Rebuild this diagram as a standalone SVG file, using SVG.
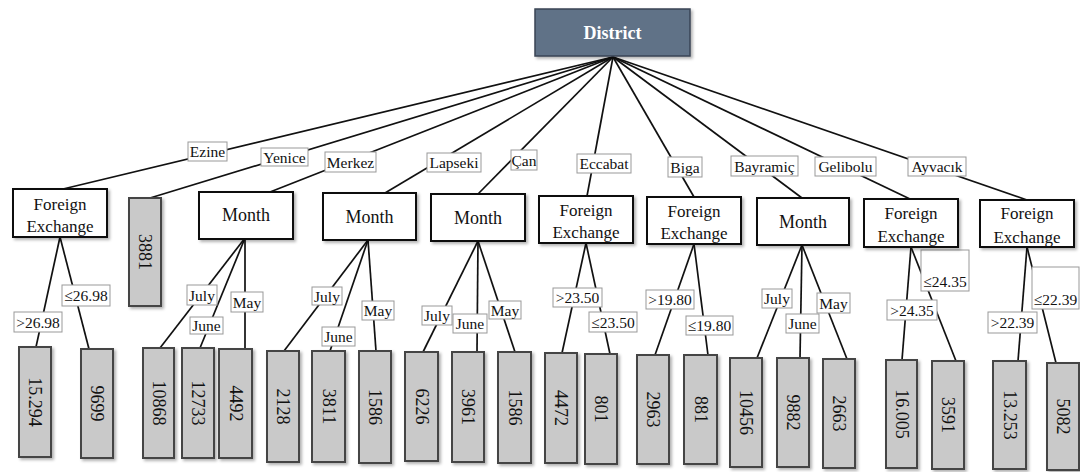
<svg xmlns="http://www.w3.org/2000/svg" width="1080" height="472" viewBox="0 0 1080 472">
  <defs>
    <filter id="shadow" x="-20%" y="-20%" width="150%" height="150%">
      <feDropShadow dx="2" dy="2" stdDeviation="1.5" flood-color="#000" flood-opacity="0.3"/>
    </filter>
    <style>
      .edge { stroke: #111; stroke-width: 1.7; fill: none; }
      .node { fill: #fff; stroke: #111; stroke-width: 2; filter: url(#shadow); }
      .root { fill: #617287; stroke: #3a4656; stroke-width: 1.5; filter: url(#shadow); }
      .leaf { fill: #c9c9c9; stroke: #444; stroke-width: 2; filter: url(#shadow); }
      .lbl { fill: #fff; stroke: #999; stroke-width: 1; }
      text { font-family: "Liberation Serif", "Times New Roman", serif; fill: #111; text-anchor: middle; dominant-baseline: central; }
      .nt { font-size: 17px; }
      .mt { font-size: 18px; }
      .rt { font-size: 18px; font-weight: bold; fill: #fff; }
      .lt { font-size: 18px; }
      .et { font-size: 15.5px; }
    </style>
  </defs>
  <rect width="1080" height="472" fill="#fff"/>

  <!-- connectors -->
  <g id="connectors">
    <!-- root to districts -->
    <line class="edge" x1="613" y1="57" x2="63" y2="189"/>
    <line class="edge" x1="613" y1="57" x2="150" y2="198"/>
    <line class="edge" x1="613" y1="57" x2="270" y2="192"/>
    <line class="edge" x1="613" y1="57" x2="385" y2="193"/>
    <line class="edge" x1="613" y1="57" x2="478" y2="194"/>
    <line class="edge" x1="613" y1="57" x2="587" y2="196"/>
    <line class="edge" x1="613" y1="57" x2="694" y2="197"/>
    <line class="edge" x1="613" y1="57" x2="802" y2="198"/>
    <line class="edge" x1="613" y1="57" x2="910" y2="199"/>
    <line class="edge" x1="613" y1="57" x2="1027" y2="200"/>
    <!-- Ezine -->
    <line class="edge" x1="60" y1="237" x2="36" y2="347"/>
    <line class="edge" x1="60" y1="237" x2="89" y2="349"/>
    <!-- Merkez -->
    <line class="edge" x1="245" y1="238" x2="160" y2="348"/>
    <line class="edge" x1="245" y1="238" x2="200" y2="348"/>
    <line class="edge" x1="245" y1="238" x2="245" y2="349"/>
    <!-- Lapseki -->
    <line class="edge" x1="368" y1="240" x2="284" y2="351"/>
    <line class="edge" x1="368" y1="240" x2="330" y2="351"/>
    <line class="edge" x1="368" y1="240" x2="376" y2="351"/>
    <!-- Çan -->
    <line class="edge" x1="478" y1="241" x2="423" y2="352"/>
    <line class="edge" x1="478" y1="241" x2="477" y2="352"/>
    <line class="edge" x1="478" y1="241" x2="515" y2="352"/>
    <!-- Eccabat -->
    <line class="edge" x1="586" y1="243" x2="562" y2="353"/>
    <line class="edge" x1="586" y1="243" x2="610" y2="354"/>
    <!-- Biga -->
    <line class="edge" x1="694" y1="244" x2="655" y2="355"/>
    <line class="edge" x1="694" y1="244" x2="708" y2="355"/>
    <!-- Bayramiç -->
    <line class="edge" x1="802" y1="245" x2="757" y2="358"/>
    <line class="edge" x1="802" y1="245" x2="800" y2="358"/>
    <line class="edge" x1="802" y1="245" x2="847" y2="359"/>
    <!-- Gelibolu -->
    <line class="edge" x1="911" y1="247" x2="902" y2="360"/>
    <line class="edge" x1="911" y1="247" x2="956" y2="361"/>
    <!-- Ayvacık -->
    <line class="edge" x1="1027" y1="247" x2="1018" y2="361"/>
    <line class="edge" x1="1027" y1="247" x2="1056" y2="363"/>
  </g>

  <!-- edge labels -->
  <g id="edge-labels">
    <rect class="lbl" x="188" y="142" width="39" height="19"/><text class="et" x="207.5" y="151.5">Ezine</text>
    <rect class="lbl" x="261" y="148" width="47" height="18"/><text class="et" x="284.5" y="157">Yenice</text>
    <rect class="lbl" x="325" y="152" width="51" height="20"/><text class="et" x="350.5" y="162">Merkez</text>
    <rect class="lbl" x="427" y="153" width="54" height="19"/><text class="et" x="454" y="162.5">Lapseki</text>
    <rect class="lbl" x="511" y="150" width="26" height="20"/><text class="et" x="524" y="160">Çan</text>
    <rect class="lbl" x="577" y="154" width="54" height="19"/><text class="et" x="604" y="163.5">Eccabat</text>
    <rect class="lbl" x="668" y="157" width="34" height="20"/><text class="et" x="685" y="167">Biga</text>
    <rect class="lbl" x="731" y="156" width="67" height="20"/><text class="et" x="764.5" y="166">Bayramiç</text>
    <rect class="lbl" x="815" y="157" width="61" height="19"/><text class="et" x="845.5" y="166.5">Gelibolu</text>
    <rect class="lbl" x="908" y="157" width="58" height="19"/><text class="et" x="937" y="166.5">Ayvacık</text>

    <rect class="lbl" x="14" y="312" width="48" height="20"/><text class="et" x="38" y="322">&gt;26.98</text>
    <rect class="lbl" x="62" y="285" width="48" height="21"/><text class="et" x="86" y="295.5">≤26.98</text>

    <rect class="lbl" x="187" y="285" width="30" height="20"/><text class="et" x="202" y="295">July</text>
    <rect class="lbl" x="190" y="317" width="33" height="17"/><text class="et" x="206.5" y="325.5">June</text>
    <rect class="lbl" x="231" y="292" width="32" height="20"/><text class="et" x="247" y="302">May</text>

    <rect class="lbl" x="312" y="287" width="30" height="18"/><text class="et" x="327" y="296">July</text>
    <rect class="lbl" x="322" y="327" width="33" height="19"/><text class="et" x="338.5" y="336.5">June</text>
    <rect class="lbl" x="362" y="301" width="32" height="19"/><text class="et" x="378" y="310.5">May</text>

    <rect class="lbl" x="422" y="306" width="30" height="19"/><text class="et" x="437" y="315.5">July</text>
    <rect class="lbl" x="453" y="314" width="34" height="19"/><text class="et" x="470" y="323.5">June</text>
    <rect class="lbl" x="489" y="301" width="32" height="18"/><text class="et" x="505" y="310">May</text>

    <rect class="lbl" x="553" y="288" width="49" height="19"/><text class="et" x="577.5" y="297.5">&gt;23.50</text>
    <rect class="lbl" x="589" y="312" width="48" height="20"/><text class="et" x="613" y="322">≤23.50</text>

    <rect class="lbl" x="646" y="290" width="48" height="19"/><text class="et" x="670" y="299.5">&gt;19.80</text>
    <rect class="lbl" x="686" y="316" width="47" height="19"/><text class="et" x="709.5" y="325.5">≤19.80</text>

    <rect class="lbl" x="762" y="289" width="30" height="19"/><text class="et" x="777" y="298.5">July</text>
    <rect class="lbl" x="786" y="314" width="33" height="19"/><text class="et" x="802.5" y="323.5">June</text>
    <rect class="lbl" x="817" y="293" width="33" height="20"/><text class="et" x="833.5" y="303">May</text>

    <rect class="lbl" x="887" y="300" width="50" height="20"/><text class="et" x="912" y="310">&gt;24.35</text>
    <rect class="lbl" x="921" y="250" width="48" height="41"/><text class="et" x="945" y="281">≤24.35</text>

    <rect class="lbl" x="988" y="312" width="49" height="21"/><text class="et" x="1012.5" y="322.5">&gt;22.39</text>
    <rect class="lbl" x="1032" y="267" width="47" height="42"/><text class="et" x="1055.5" y="299">≤22.39</text>
  </g>

  <!-- root -->
  <g id="n-district">
    <rect class="root" x="535" y="9" width="155" height="47"/>
    <text class="rt" x="612.5" y="33">District</text>
  </g>

  <!-- district level -->
  <g id="n-ezine">
    <rect class="node" x="13" y="189" width="94" height="48"/>
    <text class="nt" x="60" y="204">Foreign</text>
    <text class="nt" x="60" y="226">Exchange</text>
  </g>
  <g id="n-yenice">
    <rect class="leaf" x="129" y="198" width="32" height="108"/>
    <text class="lt" transform="translate(145 252) rotate(90)">3881</text>
  </g>
  <g id="n-merkez">
    <rect class="node" x="199" y="192" width="94" height="47"/>
    <text class="mt" x="246" y="215">Month</text>
  </g>
  <g id="n-lapseki">
    <rect class="node" x="323" y="193" width="93" height="47"/>
    <text class="mt" x="369.5" y="216.5">Month</text>
  </g>
  <g id="n-can">
    <rect class="node" x="431" y="194" width="94" height="47"/>
    <text class="mt" x="478" y="217.5">Month</text>
  </g>
  <g id="n-eccabat">
    <rect class="node" x="539" y="196" width="94" height="47"/>
    <text class="nt" x="586" y="210">Foreign</text>
    <text class="nt" x="586" y="232">Exchange</text>
  </g>
  <g id="n-biga">
    <rect class="node" x="647" y="197" width="94" height="47"/>
    <text class="nt" x="694" y="211">Foreign</text>
    <text class="nt" x="694" y="233">Exchange</text>
  </g>
  <g id="n-bayramic">
    <rect class="node" x="757" y="198" width="92" height="47"/>
    <text class="mt" x="803" y="221.5">Month</text>
  </g>
  <g id="n-gelibolu">
    <rect class="node" x="864" y="199" width="94" height="48"/>
    <text class="nt" x="911" y="213">Foreign</text>
    <text class="nt" x="911" y="236">Exchange</text>
  </g>
  <g id="n-ayvacik">
    <rect class="node" x="980" y="200" width="94" height="47"/>
    <text class="nt" x="1027" y="213">Foreign</text>
    <text class="nt" x="1027" y="237">Exchange</text>
  </g>

  <!-- leaves -->
  <g id="l-ezine-hi"><rect class="leaf" x="19" y="347" width="32" height="110"/><text class="lt" transform="translate(35 402) rotate(90)">15.294</text></g>
  <g id="l-ezine-lo"><rect class="leaf" x="81" y="349" width="32" height="109"/><text class="lt" transform="translate(97 403.5) rotate(90)">9699</text></g>

  <g id="l-merkez-jul"><rect class="leaf" x="143" y="348" width="31" height="110"/><text class="lt" transform="translate(158.5 403) rotate(90)">10868</text></g>
  <g id="l-merkez-jun"><rect class="leaf" x="182" y="348" width="32" height="110"/><text class="lt" transform="translate(198 403) rotate(90)">12733</text></g>
  <g id="l-merkez-may"><rect class="leaf" x="219" y="349" width="33" height="109"/><text class="lt" transform="translate(235.5 403.5) rotate(90)">4492</text></g>

  <g id="l-lapseki-jul"><rect class="leaf" x="267" y="351" width="32" height="111"/><text class="lt" transform="translate(283 406.5) rotate(90)">2128</text></g>
  <g id="l-lapseki-jun"><rect class="leaf" x="312" y="351" width="33" height="111"/><text class="lt" transform="translate(328.5 406.5) rotate(90)">3811</text></g>
  <g id="l-lapseki-may"><rect class="leaf" x="359" y="351" width="32" height="112"/><text class="lt" transform="translate(375 407) rotate(90)">1586</text></g>

  <g id="l-can-jul"><rect class="leaf" x="405" y="352" width="33" height="109"/><text class="lt" transform="translate(421.5 406.5) rotate(90)">6226</text></g>
  <g id="l-can-jun"><rect class="leaf" x="452" y="352" width="32" height="110"/><text class="lt" transform="translate(468 407) rotate(90)">3961</text></g>
  <g id="l-can-may"><rect class="leaf" x="498" y="352" width="33" height="111"/><text class="lt" transform="translate(514.5 407.5) rotate(90)">1586</text></g>

  <g id="l-eccabat-hi"><rect class="leaf" x="545" y="353" width="32" height="110"/><text class="lt" transform="translate(561 408) rotate(90)">4472</text></g>
  <g id="l-eccabat-lo"><rect class="leaf" x="585" y="354" width="32" height="110"/><text class="lt" transform="translate(601 409) rotate(90)">801</text></g>

  <g id="l-biga-hi"><rect class="leaf" x="637" y="355" width="32" height="109"/><text class="lt" transform="translate(653 409.5) rotate(90)">2963</text></g>
  <g id="l-biga-lo"><rect class="leaf" x="684" y="355" width="33" height="109"/><text class="lt" transform="translate(700.5 409.5) rotate(90)">881</text></g>

  <g id="l-bayramic-jul"><rect class="leaf" x="730" y="358" width="32" height="109"/><text class="lt" transform="translate(746 412.5) rotate(90)">10456</text></g>
  <g id="l-bayramic-jun"><rect class="leaf" x="777" y="358" width="32" height="109"/><text class="lt" transform="translate(793 412.5) rotate(90)">9882</text></g>
  <g id="l-bayramic-may"><rect class="leaf" x="823" y="359" width="32" height="109"/><text class="lt" transform="translate(839 413.5) rotate(90)">2663</text></g>

  <g id="l-gelibolu-hi"><rect class="leaf" x="886" y="360" width="31" height="108"/><text class="lt" transform="translate(901.5 414) rotate(90)">16.005</text></g>
  <g id="l-gelibolu-lo"><rect class="leaf" x="932" y="361" width="32" height="108"/><text class="lt" transform="translate(948 415) rotate(90)">3591</text></g>

  <g id="l-ayvacik-hi"><rect class="leaf" x="993" y="361" width="33" height="108"/><text class="lt" transform="translate(1009.5 415) rotate(90)">13.253</text></g>
  <g id="l-ayvacik-lo"><rect class="leaf" x="1047" y="363" width="32" height="107"/><text class="lt" transform="translate(1063 416.5) rotate(90)">5082</text></g>
</svg>
